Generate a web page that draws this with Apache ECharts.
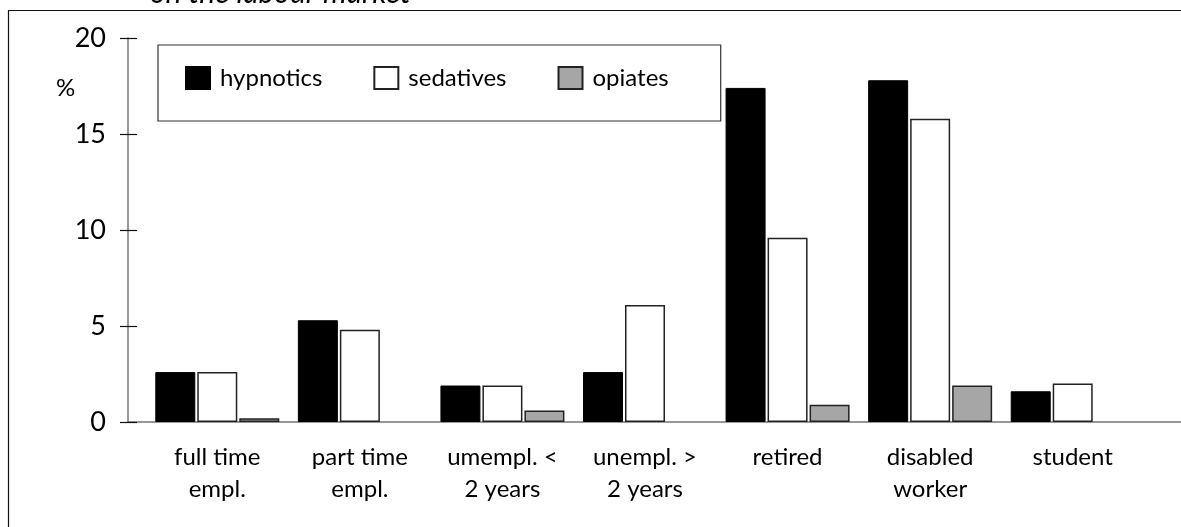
<!DOCTYPE html>
<html>
<head>
<meta charset="utf-8">
<script src="https://cdn.jsdelivr.net/npm/echarts@6/dist/echarts.min.js"></script>
<style>html,body{margin:0;padding:0;background:#fff}#c{width:1181px;height:527px}</style>
</head>
<body>
<div id="c"></div>
<script>
const categories = ['full time\nempl.', 'part time\nempl.', 'umempl. <\n2 years', 'unempl. >\n2 years', 'retired', 'disabled\nworker', 'student'];
const hypnotics = [2.6, 5.3, 1.9, 2.6, 17.4, 17.8, 1.6];
const sedatives = [2.6, 4.8, 1.9, 6.1, 9.6, 15.8, 2.0];
const opiates   = [0.2, 0, 0.6, 0, 0.9, 1.9, 0];
const yTicks = [0, 5, 10, 15, 20];

const FONT = 'Lato';
const noZero = arr => arr.map(v => (v === 0 ? '-' : v));
const chart = echarts.init(document.getElementById('c'), null, {renderer: 'canvas'});
const barBase = {type: 'bar', barWidth: 40, barGap: '5%', xAxisIndex: 0, yAxisIndex: 0};
chart.setOption({
  animation: false,
  backgroundColor: '#fff',
  title: [
    {text: 'on the labour market', left: 145, top: -27,
     textStyle: {fontFamily: FONT, fontStyle: 'italic', fontWeight: 'normal', fontSize: 30, color: '#000'}},
    {text: '%', left: 51, top: 71,
     textStyle: {fontFamily: FONT, fontWeight: 'normal', fontSize: 24, color: '#000'}}
  ],
  graphic: [{type: 'rect', shape: {x: 8.5, y: 10.5, width: 1200, height: 600}, style: {fill: 'none', stroke: '#111', lineWidth: 1.2}, silent: true, z: -10}],
  legend: {
    left: 158, top: 45,
    padding: [21, 52, 31, 27],
    itemGap: 51, itemWidth: 24, itemHeight: 22, icon: 'rect',
    borderColor: '#333', borderWidth: 1.2,
    textStyle: {fontFamily: FONT, fontSize: 24, color: '#000', padding: [0, 0, 0, 5]},
    data: ['hypnotics', 'sedatives', 'opiates']
  },
  grid: [
    {left: 146, right: 37, top: 38, bottom: 105},
    {left: 128, right: 0, top: 38, bottom: 105}
  ],
  xAxis: [
    {type: 'category', gridIndex: 0, data: categories,
     axisLine: {show: false}, axisTick: {show: false},
     axisLabel: {fontFamily: FONT, fontSize: 24, color: '#000', margin: 19, lineHeight: 32, interval: 0}},
    {type: 'value', gridIndex: 1, min: 0, max: 1,
     axisLine: {show: true, lineStyle: {color: '#777', width: 1.5}},
     axisTick: {show: false}, axisLabel: {show: false}, splitLine: {show: false}}
  ],
  yAxis: [
    {type: 'value', gridIndex: 0, min: yTicks[0], max: yTicks[yTicks.length - 1], interval: 5, offset: 18,
     axisLine: {show: true, lineStyle: {color: '#777', width: 1.5}},
     axisTick: {show: true, length: 8, lineStyle: {color: '#111', width: 1.2}},
     axisLabel: {fontFamily: FONT, fontSize: 27, color: '#000', margin: 22},
     splitLine: {show: false}},
    {type: 'value', gridIndex: 1, min: yTicks[0], max: yTicks[yTicks.length - 1], interval: 5,
     axisLine: {show: false},
     axisTick: {show: true, inside: true, length: 9, lineStyle: {color: '#111', width: 1.2}},
     axisLabel: {show: false}, splitLine: {show: false}}
  ],
  series: [
    Object.assign({}, barBase, {name: 'hypnotics', data: noZero(hypnotics), itemStyle: {color: '#000', borderColor: '#000', borderWidth: 1}}),
    Object.assign({}, barBase, {name: 'sedatives', data: noZero(sedatives), itemStyle: {color: '#fff', borderColor: '#222', borderWidth: 1.5}}),
    Object.assign({}, barBase, {name: 'opiates', data: noZero(opiates), itemStyle: {color: '#a6a6a6', borderColor: '#222', borderWidth: 1.5}})
  ]
});
</script>
</body>
</html>
